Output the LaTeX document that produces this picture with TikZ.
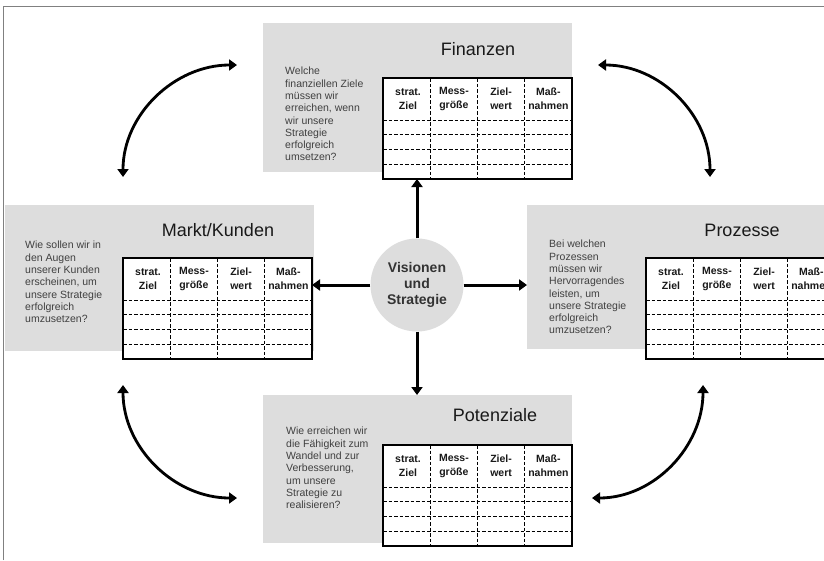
\documentclass[tikz,border=0pt]{standalone}
\usepackage{fontspec}
\setmainfont{Liberation Sans}
\usetikzlibrary{arrows.meta,calc}
\definecolor{panelgray}{RGB}{221,221,221}
\definecolor{framegray}{RGB}{128,128,128}
\tikzset{
  panel/.style={fill=panelgray, draw=none, anchor=north west, minimum width=309pt, inner sep=0pt, outer sep=0pt},
  tablebox/.style={fill=white, draw=none, anchor=north west, minimum width=189pt, minimum height=101pt, inner sep=0pt, outer sep=0pt},
  tableframe/.style={draw=black, line width=2.6pt},
  dashline/.style={draw=black, line width=0.9pt, dash pattern=on 3.5pt off 2pt},
  head/.style={align=center, font=\bfseries\fontsize{10.5}{14}\selectfont, text=black!90, inner sep=0pt},
  question/.style={align=left, anchor=north west, font=\fontsize{10.5}{12.3}\selectfont, text=black!75, inner sep=0pt},
  ptitle/.style={anchor=base, font=\fontsize{18}{20}\selectfont, text=black!90, inner sep=0pt},
  arr/.style={line width=3pt, -{Triangle[length=8pt,width=11pt]}},
  curvearr/.style={line width=2.8pt, {Triangle[length=8pt,width=11pt]}-{Triangle[length=8pt,width=11pt]}},
}
\newcommand\bsctable[2]{%
  \node[tablebox] (#1) at (#2) {};
  \begin{scope}[shift={(#1.north west)}]
    \foreach \yy in {42,56.75,71.5,86.25} \draw[dashline] (0,\yy) -- (189,\yy);
    \foreach \xx in {47.25,94.5,141.75} \draw[dashline] (\xx,0) -- (\xx,101);
    \node[head] (#1h1) at (25,21) {strat.\\Ziel};
    \node[head] (#1h2) at (70.9,21) {Mess-\\größe};
    \node[head] (#1h3) at (118.1,21) {Ziel-\\wert};
    \node[head] (#1h4) at (165.4,21) {Maß-\\nahmen};
  \end{scope}
  \draw[tableframe] (#1.north west) rectangle (#1.south east);
}
\begin{document}
\begin{tikzpicture}[x=1pt,y=-1pt]
\useasboundingbox (0,0) rectangle (824,560);
\clip (0,0) rectangle (824,560);
\fill[white] (0,0) rectangle (824,560);
% frame
\draw[framegray, line width=1.5pt] (3.5,560) -- (3.5,6.5) -- (824,6.5);

% panels
\node[panel, minimum height=149pt] (finpanel) at (263,23) {};
\node[panel, minimum height=146pt] (marktpanel) at (5,205) {};
\node[panel, minimum height=144pt] (prozpanel) at (527,205) {};
\node[panel, minimum height=148pt] (potpanel) at (263,395) {};

% titles
\node[ptitle] (fintitle) at (478,55.5) {Finanzen};
\node[ptitle] (markttitle) at (218,236.5) {Markt/Kunden};
\node[ptitle] (proztitle) at (742,236.5) {Prozesse};
\node[ptitle] (pottitle) at (495,421.5) {Potenziale};

% questions
\node[question] (finq) at (285,67) {Welche\\finanziellen Ziele\\müssen wir\\erreichen, wenn\\wir unsere\\Strategie\\erfolgreich\\umsetzen?};
\node[question] (marktq) at (25,241) {Wie sollen wir in\\den Augen\\unserer Kunden\\erscheinen, um\\unsere Strategie\\erfolgreich\\umzusetzen?};
\node[question] (prozq) at (549,240) {Bei welchen\\Prozessen\\müssen wir\\Hervorragendes\\leisten, um\\unsere Strategie\\erfolgreich\\umzusetzen?};
\node[question] (potq) at (286,427) {Wie erreichen wir\\die Fähigkeit zum\\Wandel und zur\\Verbesserung,\\um unsere\\Strategie zu\\realisieren?};

% tables
\bsctable{fintab}{383,78}
\bsctable{markttab}{123,258}
\bsctable{proztab}{646,258}
\bsctable{pottab}{383,445}

% centre
\node[circle, fill=panelgray, minimum size=93pt, inner sep=0pt, align=center,
      font=\bfseries\fontsize{14}{16}\selectfont, text=black!80] (circ) at (417,285) {Visionen\\und\\Strategie};

% straight arrows
\draw[arr] (circ.north) -- (circ.north |- fintab.south);
\draw[arr] (circ.south) -- (circ.south |- potpanel.north);
\draw[arr] (circ.west) -- (circ.west -| markttab.east);
\draw[arr] (circ.east) -- (circ.east -| prozpanel.west);

% curved arrows
\coordinate (tlA) at (123,177);
\coordinate (tlB) at (237,65);
\coordinate (trA) at (598,65);
\coordinate (trB) at (710,177);
\coordinate (blA) at (123,385);
\coordinate (blB) at (237,498);
\coordinate (brA) at (703,385);
\coordinate (brB) at (592,498);
\draw[curvearr] (tlA) to[out=90,in=180] (tlB);
\draw[curvearr] (trA) to[out=0,in=90] (trB);
\draw[curvearr] (blA) to[out=-90,in=180] (blB);
\draw[curvearr] (brA) to[out=-90,in=0] (brB);
\end{tikzpicture}
\end{document}
